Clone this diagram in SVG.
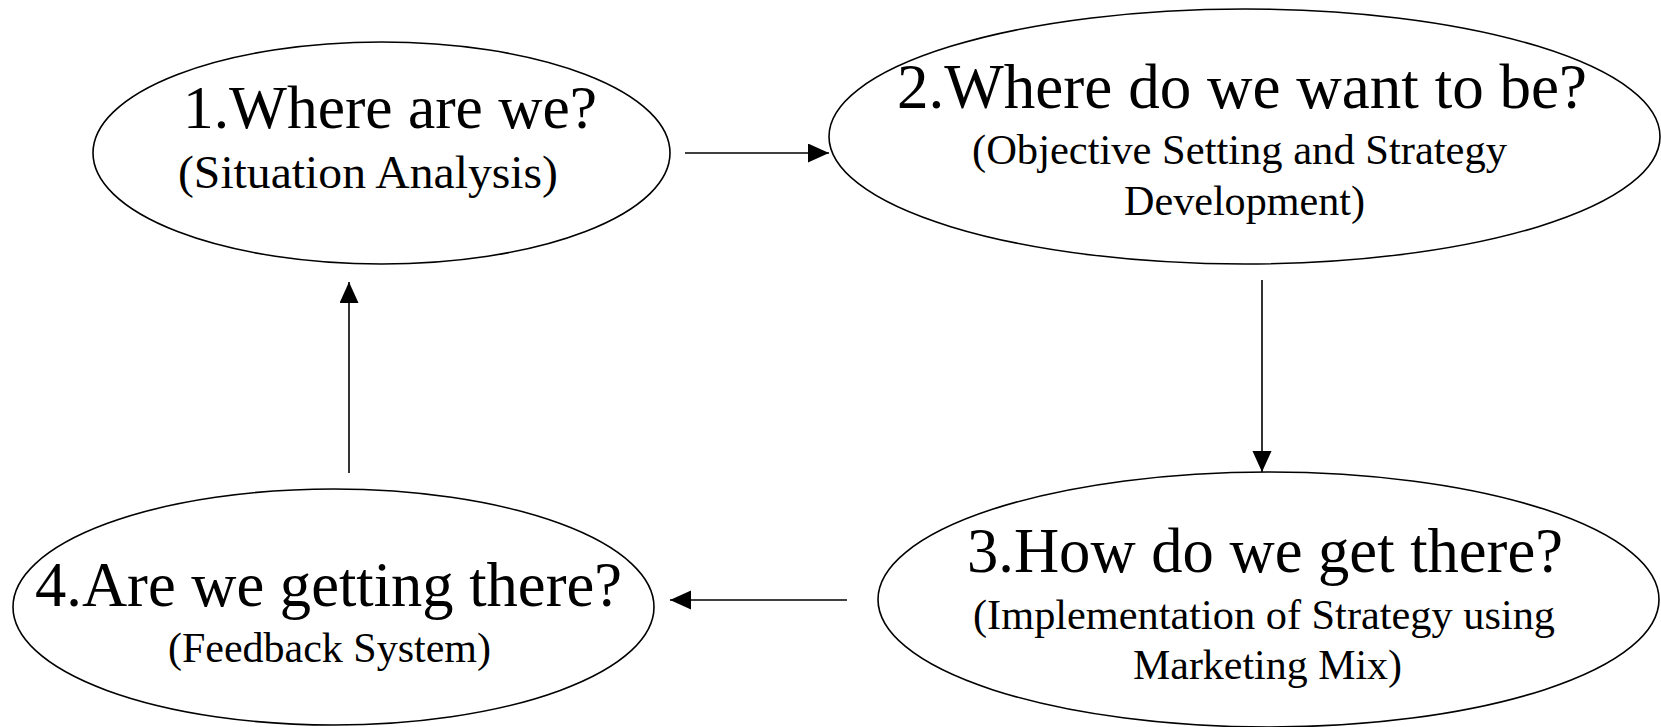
<svg xmlns="http://www.w3.org/2000/svg" width="1661" height="727" viewBox="0 0 1661 727">
  <style>
    .node { fill: #ffffff; stroke: #000000; stroke-width: 1.6; }
    .title { font-family: "Liberation Serif", "Times New Roman", serif; fill: #000000; text-anchor: start; }
    .sub { font-family: "Liberation Serif", "Times New Roman", serif; fill: #000000; text-anchor: start; }
    .edge { stroke: #000000; stroke-width: 1.6; fill: none; marker-end: url(#arrow); }
  </style>
  <defs>
    <marker id="arrow" markerUnits="userSpaceOnUse" markerWidth="22" markerHeight="20" refX="21" refY="9.5" orient="auto">
      <path d="M0,0 L21,9.5 L0,19 Z" fill="#000000"/>
    </marker>
  </defs>
  <rect width="1661" height="727" fill="#ffffff"/>

  <!-- Stage 1 -->
  <g id="node-where-are-we">
    <ellipse class="node" cx="381.5" cy="153" rx="288.5" ry="111"/>
    <text class="title" x="183" y="128" font-size="61.5" textLength="414" lengthAdjust="spacingAndGlyphs">1.Where are we?</text>
    <text class="sub" x="178" y="188" font-size="47" textLength="380" lengthAdjust="spacingAndGlyphs">(Situation Analysis)</text>
  </g>

  <!-- Stage 2 -->
  <g id="node-where-to-be">
    <ellipse class="node" cx="1244.5" cy="136.5" rx="415.5" ry="127.5"/>
    <text class="title" x="897" y="108" font-size="63" textLength="690" lengthAdjust="spacingAndGlyphs">2.Where do we want to be?</text>
    <text class="sub" x="972" y="164" font-size="42.5" textLength="535" lengthAdjust="spacingAndGlyphs">(Objective Setting and Strategy</text>
    <text class="sub" x="1124" y="215" font-size="42" textLength="241" lengthAdjust="spacingAndGlyphs">Development)</text>
  </g>

  <!-- Stage 3 -->
  <g id="node-how-get-there">
    <ellipse class="node" cx="1268.5" cy="599.5" rx="390.5" ry="127.5"/>
    <text class="title" x="967" y="572" font-size="63" textLength="596" lengthAdjust="spacingAndGlyphs">3.How do we get there?</text>
    <text class="sub" x="973" y="629" font-size="42" textLength="582" lengthAdjust="spacingAndGlyphs">(Implementation of Strategy using</text>
    <text class="sub" x="1133" y="679" font-size="42" textLength="269" lengthAdjust="spacingAndGlyphs">Marketing Mix)</text>
  </g>

  <!-- Stage 4 -->
  <g id="node-getting-there">
    <ellipse class="node" cx="333.5" cy="607" rx="320.5" ry="118"/>
    <text class="title" x="35" y="606" font-size="62.5" textLength="587" lengthAdjust="spacingAndGlyphs">4.Are we getting there?</text>
    <text class="sub" x="168" y="662" font-size="42" textLength="323" lengthAdjust="spacingAndGlyphs">(Feedback System)</text>
  </g>

  <!-- Cycle connectors -->
  <g id="connectors">
    <line class="edge" x1="685" y1="153" x2="829" y2="153"/>
    <line class="edge" x1="1262" y1="280" x2="1262" y2="472"/>
    <line class="edge" x1="847" y1="600" x2="670" y2="600"/>
    <line class="edge" x1="349" y1="473" x2="349" y2="282"/>
  </g>
</svg>
